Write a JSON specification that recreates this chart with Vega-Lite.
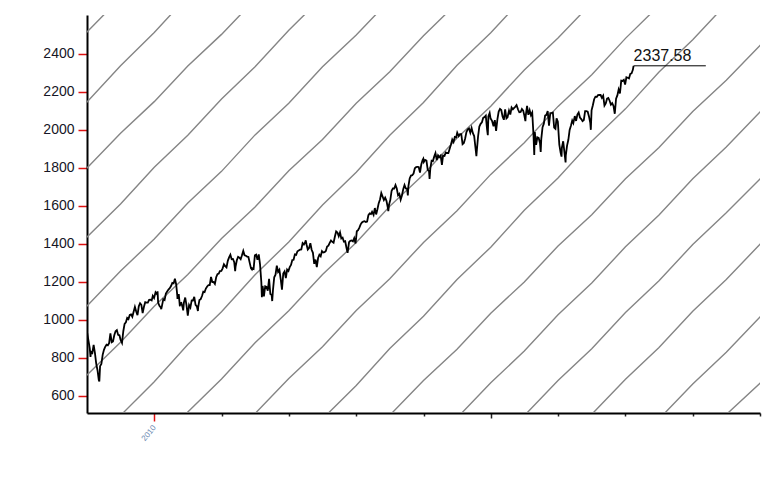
{
"$schema": "https://vega.github.io/schema/vega-lite/v6.json",
"width": 673, "height": 398,
"autosize": {"type": "none"},
"padding": {"left": 87, "top": 15, "right": 21, "bottom": 82},
"background": "white",
"config": {"view": {"stroke": null}, "font": "Liberation Sans", "axis": {"labelFont": "Liberation Sans"}},
"datasets": {
"fan": [
{"k":0,"d":"2008-07-02","v":2335},{"k":0,"d":"2009-01-01","v":2515},{"k":0,"d":"2009-07-02","v":2696},
{"k":1,"d":"2008-07-02","v":1962},{"k":1,"d":"2009-01-01","v":2147},{"k":1,"d":"2009-07-02","v":2338},{"k":1,"d":"2010-01-01","v":2513},{"k":1,"d":"2010-07-02","v":2704},
{"k":2,"d":"2008-07-02","v":1622},{"k":2,"d":"2009-01-01","v":1799},{"k":2,"d":"2009-07-02","v":1983},{"k":2,"d":"2010-01-01","v":2149},{"k":2,"d":"2010-07-02","v":2336},{"k":2,"d":"2011-01-01","v":2503},{"k":2,"d":"2011-07-02","v":2687},
{"k":3,"d":"2008-07-02","v":1256},{"k":3,"d":"2009-01-01","v":1436},{"k":3,"d":"2009-07-02","v":1610},{"k":3,"d":"2010-01-01","v":1804},{"k":3,"d":"2010-07-02","v":1972},{"k":3,"d":"2011-01-01","v":2163},{"k":3,"d":"2011-07-02","v":2333},{"k":3,"d":"2012-01-01","v":2525},{"k":3,"d":"2012-07-02","v":2700},
{"k":4,"d":"2008-07-02","v":894},{"k":4,"d":"2009-01-01","v":1073},{"k":4,"d":"2009-07-02","v":1258},{"k":4,"d":"2010-01-01","v":1426},{"k":4,"d":"2010-07-02","v":1615},{"k":4,"d":"2011-01-01","v":1782},{"k":4,"d":"2011-07-02","v":1974},{"k":4,"d":"2012-01-01","v":2141},{"k":4,"d":"2012-07-02","v":2332},{"k":4,"d":"2013-01-01","v":2500},{"k":4,"d":"2013-07-02","v":2684},
{"k":5,"d":"2008-07-02","v":532},{"k":5,"d":"2009-01-01","v":710},{"k":5,"d":"2009-07-02","v":882},{"k":5,"d":"2010-01-01","v":1072},{"k":5,"d":"2010-07-02","v":1239},{"k":5,"d":"2011-01-01","v":1428},{"k":5,"d":"2011-07-02","v":1594},{"k":5,"d":"2012-01-01","v":1785},{"k":5,"d":"2012-07-02","v":1950},{"k":5,"d":"2013-01-01","v":2140},{"k":5,"d":"2013-07-02","v":2306},{"k":5,"d":"2014-01-01","v":2496},{"k":5,"d":"2014-07-02","v":2668},
{"k":6,"d":"2009-01-01","v":314},{"k":6,"d":"2009-07-02","v":497},{"k":6,"d":"2010-01-01","v":675},{"k":6,"d":"2010-07-02","v":870},{"k":6,"d":"2011-01-01","v":1043},{"k":6,"d":"2011-07-02","v":1238},{"k":6,"d":"2012-01-01","v":1410},{"k":6,"d":"2012-07-02","v":1605},{"k":6,"d":"2013-01-01","v":1777},{"k":6,"d":"2013-07-02","v":1972},{"k":6,"d":"2014-01-01","v":2144},{"k":6,"d":"2014-07-02","v":2340},{"k":6,"d":"2015-01-01","v":2512},{"k":6,"d":"2015-07-02","v":2701},
{"k":7,"d":"2010-01-01","v":336},{"k":7,"d":"2010-07-02","v":515},{"k":7,"d":"2011-01-01","v":689},{"k":7,"d":"2011-07-02","v":880},{"k":7,"d":"2012-01-01","v":1048},{"k":7,"d":"2012-07-02","v":1239},{"k":7,"d":"2013-01-01","v":1407},{"k":7,"d":"2013-07-02","v":1598},{"k":7,"d":"2014-01-01","v":1766},{"k":7,"d":"2014-07-02","v":1957},{"k":7,"d":"2015-01-01","v":2125},{"k":7,"d":"2015-07-02","v":2316},{"k":7,"d":"2016-01-01","v":2484},{"k":7,"d":"2016-07-02","v":2669},
{"k":8,"d":"2011-01-01","v":328},{"k":8,"d":"2011-07-02","v":507},{"k":8,"d":"2012-01-01","v":692},{"k":8,"d":"2012-07-02","v":859},{"k":8,"d":"2013-01-01","v":1050},{"k":8,"d":"2013-07-02","v":1217},{"k":8,"d":"2014-01-01","v":1408},{"k":8,"d":"2014-07-02","v":1575},{"k":8,"d":"2015-01-01","v":1766},{"k":8,"d":"2015-07-02","v":1933},{"k":8,"d":"2016-01-01","v":2124},{"k":8,"d":"2016-07-02","v":2291},{"k":8,"d":"2017-01-01","v":2482},{"k":8,"d":"2017-07-02","v":2655},
{"k":9,"d":"2012-01-01","v":297},{"k":9,"d":"2012-07-02","v":479},{"k":9,"d":"2013-01-01","v":655},{"k":9,"d":"2013-07-02","v":849},{"k":9,"d":"2014-01-01","v":1019},{"k":9,"d":"2014-07-02","v":1213},{"k":9,"d":"2015-01-01","v":1383},{"k":9,"d":"2015-07-02","v":1577},{"k":9,"d":"2016-01-01","v":1747},{"k":9,"d":"2016-07-02","v":1941},{"k":9,"d":"2017-01-01","v":2111},{"k":9,"d":"2017-07-02","v":2305},{"k":9,"d":"2018-01-01","v":2475},{"k":9,"d":"2018-07-02","v":2663},
{"k":10,"d":"2013-01-01","v":321},{"k":10,"d":"2013-07-02","v":498},{"k":10,"d":"2014-01-01","v":681},{"k":10,"d":"2014-07-02","v":846},{"k":10,"d":"2015-01-01","v":1035},{"k":10,"d":"2015-07-02","v":1200},{"k":10,"d":"2016-01-01","v":1389},{"k":10,"d":"2016-07-02","v":1554},{"k":10,"d":"2017-01-01","v":1743},{"k":10,"d":"2017-07-02","v":1908},{"k":10,"d":"2018-01-01","v":2097},{"k":10,"d":"2018-07-02","v":2262},{"k":10,"d":"2019-01-01","v":2445},{"k":10,"d":"2019-07-02","v":2622},
{"k":11,"d":"2014-01-01","v":305},{"k":11,"d":"2014-07-02","v":484},{"k":11,"d":"2015-01-01","v":669},{"k":11,"d":"2015-07-02","v":836},{"k":11,"d":"2016-01-01","v":1027},{"k":11,"d":"2016-07-02","v":1194},{"k":11,"d":"2017-01-01","v":1385},{"k":11,"d":"2017-07-02","v":1552},{"k":11,"d":"2018-01-01","v":1743},{"k":11,"d":"2018-07-02","v":1910},{"k":11,"d":"2019-01-01","v":2095},{"k":11,"d":"2019-07-02","v":2274},
{"k":12,"d":"2015-01-01","v":317},{"k":12,"d":"2015-07-02","v":496},{"k":12,"d":"2016-01-01","v":681},{"k":12,"d":"2016-07-02","v":848},{"k":12,"d":"2017-01-01","v":1039},{"k":12,"d":"2017-07-02","v":1206},{"k":12,"d":"2018-01-01","v":1397},{"k":12,"d":"2018-07-02","v":1564},{"k":12,"d":"2019-01-01","v":1742},{"k":12,"d":"2019-07-02","v":1920},
{"k":13,"d":"2016-01-01","v":324},{"k":13,"d":"2016-07-02","v":503},{"k":13,"d":"2017-01-01","v":688},{"k":13,"d":"2017-07-02","v":855},{"k":13,"d":"2018-01-01","v":1046},{"k":13,"d":"2018-07-02","v":1213},{"k":13,"d":"2019-01-01","v":1398},{"k":13,"d":"2019-07-02","v":1577},
{"k":14,"d":"2017-01-01","v":299},{"k":14,"d":"2017-07-02","v":478},{"k":14,"d":"2018-01-01","v":663},{"k":14,"d":"2018-07-02","v":830},{"k":14,"d":"2019-01-01","v":1015},{"k":14,"d":"2019-07-02","v":1194},
{"k":15,"d":"2018-01-01","v":337},{"k":15,"d":"2018-07-02","v":502},{"k":15,"d":"2019-01-01","v":667},{"k":15,"d":"2019-07-02","v":832}
],
"price": [
{"d":"2009-01-02","v":931.8},{"d":"2009-01-09","v":890.35},{"d":"2009-01-16","v":850.12},{"d":"2009-01-20","v":805.22},{"d":"2009-01-23","v":831.95},{"d":"2009-01-30","v":825.88},{"d":"2009-02-06","v":868.6},{"d":"2009-02-13","v":826.84},{"d":"2009-02-20","v":770.05},{"d":"2009-02-27","v":735.09},{"d":"2009-03-06","v":683.38},{"d":"2009-03-09","v":676.53},{"d":"2009-03-13","v":756.55},{"d":"2009-03-20","v":768.54},{"d":"2009-03-27","v":815.94},{"d":"2009-04-03","v":842.5},{"d":"2009-04-09","v":856.56},{"d":"2009-04-17","v":869.6},{"d":"2009-04-24","v":866.23},{"d":"2009-05-01","v":877.52},{"d":"2009-05-08","v":929.23},{"d":"2009-05-15","v":882.88},{"d":"2009-05-22","v":887},{"d":"2009-05-29","v":919.14},{"d":"2009-06-05","v":940.09},{"d":"2009-06-12","v":946.21},{"d":"2009-06-19","v":921.23},{"d":"2009-06-26","v":918.9},{"d":"2009-07-02","v":896.42},{"d":"2009-07-10","v":879.13},{"d":"2009-07-17","v":940.38},{"d":"2009-07-24","v":979.26},{"d":"2009-07-31","v":987.48},{"d":"2009-08-07","v":1010.48},{"d":"2009-08-14","v":1004.09},{"d":"2009-08-21","v":1026.13},{"d":"2009-08-28","v":1028.93},{"d":"2009-09-04","v":1016.4},{"d":"2009-09-11","v":1042.73},{"d":"2009-09-18","v":1068.3},{"d":"2009-09-25","v":1044.38},{"d":"2009-10-02","v":1025.21},{"d":"2009-10-09","v":1071.49},{"d":"2009-10-16","v":1087.68},{"d":"2009-10-23","v":1079.6},{"d":"2009-10-30","v":1036.19},{"d":"2009-11-06","v":1069.3},{"d":"2009-11-13","v":1093.48},{"d":"2009-11-20","v":1091.38},{"d":"2009-11-27","v":1091.49},{"d":"2009-12-04","v":1105.98},{"d":"2009-12-11","v":1106.41},{"d":"2009-12-18","v":1102.47},{"d":"2009-12-24","v":1126.48},{"d":"2009-12-31","v":1115.1},
{"d":"2010-01-08","v":1144.98},{"d":"2010-01-15","v":1136.03},{"d":"2010-01-19","v":1150.23},{"d":"2010-01-22","v":1091.76},{"d":"2010-01-29","v":1073.87},{"d":"2010-02-05","v":1066.19},{"d":"2010-02-08","v":1056.74},{"d":"2010-02-12","v":1075.51},{"d":"2010-02-19","v":1109.17},{"d":"2010-02-26","v":1104.49},{"d":"2010-03-05","v":1138.7},{"d":"2010-03-12","v":1149.99},{"d":"2010-03-19","v":1159.9},{"d":"2010-03-26","v":1166.59},{"d":"2010-04-02","v":1178.1},{"d":"2010-04-09","v":1194.37},{"d":"2010-04-16","v":1192.13},{"d":"2010-04-23","v":1217.28},{"d":"2010-04-30","v":1186.69},{"d":"2010-05-06","v":1128.15},{"d":"2010-05-07","v":1110.88},{"d":"2010-05-14","v":1135.68},{"d":"2010-05-20","v":1071.59},{"d":"2010-05-21","v":1087.69},{"d":"2010-05-28","v":1089.41},{"d":"2010-06-04","v":1064.88},{"d":"2010-06-07","v":1050.47},{"d":"2010-06-11","v":1091.6},{"d":"2010-06-18","v":1117.51},{"d":"2010-06-25","v":1076.76},{"d":"2010-07-02","v":1022.58},{"d":"2010-07-09","v":1077.96},{"d":"2010-07-16","v":1064.88},{"d":"2010-07-23","v":1102.66},{"d":"2010-07-30","v":1101.6},{"d":"2010-08-06","v":1121.64},{"d":"2010-08-13","v":1079.25},{"d":"2010-08-20","v":1071.69},{"d":"2010-08-26","v":1047.22},{"d":"2010-08-27","v":1064.59},{"d":"2010-09-03","v":1104.51},{"d":"2010-09-10","v":1109.55},{"d":"2010-09-17","v":1125.59},{"d":"2010-09-24","v":1148.67},{"d":"2010-10-01","v":1146.24},{"d":"2010-10-08","v":1165.15},{"d":"2010-10-15","v":1176.19},{"d":"2010-10-22","v":1183.08},{"d":"2010-10-29","v":1183.26},{"d":"2010-11-05","v":1225.85},{"d":"2010-11-12","v":1199.21},{"d":"2010-11-19","v":1199.73},{"d":"2010-11-26","v":1189.4},{"d":"2010-12-03","v":1224.71},{"d":"2010-12-10","v":1240.4},{"d":"2010-12-17","v":1243.91},{"d":"2010-12-23","v":1256.77},{"d":"2010-12-31","v":1257.64},
{"d":"2011-01-07","v":1271.5},{"d":"2011-01-14","v":1293.24},{"d":"2011-01-21","v":1283.35},{"d":"2011-01-28","v":1276.34},{"d":"2011-02-04","v":1310.87},{"d":"2011-02-11","v":1329.15},{"d":"2011-02-18","v":1343.01},{"d":"2011-02-25","v":1319.88},{"d":"2011-03-04","v":1321.15},{"d":"2011-03-11","v":1304.28},{"d":"2011-03-16","v":1256.88},{"d":"2011-03-18","v":1279.2},{"d":"2011-03-25","v":1313.8},{"d":"2011-04-01","v":1332.41},{"d":"2011-04-08","v":1328.17},{"d":"2011-04-15","v":1319.68},{"d":"2011-04-21","v":1337.38},{"d":"2011-04-29","v":1363.61},{"d":"2011-05-06","v":1340.2},{"d":"2011-05-13","v":1337.77},{"d":"2011-05-20","v":1333.27},{"d":"2011-05-27","v":1331.1},{"d":"2011-06-03","v":1300.16},{"d":"2011-06-10","v":1270.98},{"d":"2011-06-15","v":1265.42},{"d":"2011-06-17","v":1271.5},{"d":"2011-06-24","v":1268.45},{"d":"2011-07-01","v":1339.67},{"d":"2011-07-08","v":1343.8},{"d":"2011-07-15","v":1316.14},{"d":"2011-07-22","v":1345.02},{"d":"2011-07-29","v":1292.28},{"d":"2011-08-05","v":1199.38},{"d":"2011-08-08","v":1119.46},{"d":"2011-08-12","v":1178.81},{"d":"2011-08-19","v":1123.53},{"d":"2011-08-26","v":1176.8},{"d":"2011-09-02","v":1173.97},{"d":"2011-09-09","v":1154.23},{"d":"2011-09-16","v":1216.01},{"d":"2011-09-23","v":1136.43},{"d":"2011-09-30","v":1131.42},{"d":"2011-10-03","v":1099.23},{"d":"2011-10-07","v":1155.46},{"d":"2011-10-14","v":1224.58},{"d":"2011-10-21","v":1238.25},{"d":"2011-10-28","v":1285.09},{"d":"2011-11-04","v":1253.23},{"d":"2011-11-11","v":1263.85},{"d":"2011-11-18","v":1215.65},{"d":"2011-11-25","v":1158.67},{"d":"2011-12-02","v":1244.28},{"d":"2011-12-09","v":1255.19},{"d":"2011-12-16","v":1219.66},{"d":"2011-12-23","v":1265.33},{"d":"2011-12-30","v":1257.6},
{"d":"2012-01-06","v":1277.81},{"d":"2012-01-13","v":1289.09},{"d":"2012-01-20","v":1315.38},{"d":"2012-01-27","v":1316.33},{"d":"2012-02-03","v":1344.9},{"d":"2012-02-10","v":1342.64},{"d":"2012-02-17","v":1361.23},{"d":"2012-02-24","v":1365.74},{"d":"2012-03-02","v":1369.63},{"d":"2012-03-09","v":1370.87},{"d":"2012-03-16","v":1404.17},{"d":"2012-03-23","v":1397.11},{"d":"2012-03-30","v":1408.47},{"d":"2012-04-02","v":1419.04},{"d":"2012-04-06","v":1398.08},{"d":"2012-04-13","v":1370.26},{"d":"2012-04-20","v":1378.53},{"d":"2012-04-27","v":1403.36},{"d":"2012-05-04","v":1369.1},{"d":"2012-05-11","v":1353.39},{"d":"2012-05-18","v":1295.22},{"d":"2012-05-25","v":1317.82},{"d":"2012-06-01","v":1278.04},{"d":"2012-06-08","v":1325.66},{"d":"2012-06-15","v":1342.84},{"d":"2012-06-22","v":1335.02},{"d":"2012-06-29","v":1362.16},{"d":"2012-07-06","v":1354.68},{"d":"2012-07-13","v":1356.78},{"d":"2012-07-20","v":1362.66},{"d":"2012-07-27","v":1385.97},{"d":"2012-08-03","v":1390.99},{"d":"2012-08-10","v":1405.87},{"d":"2012-08-17","v":1418.16},{"d":"2012-08-24","v":1411.13},{"d":"2012-08-31","v":1406.58},{"d":"2012-09-07","v":1437.92},{"d":"2012-09-14","v":1465.77},{"d":"2012-09-21","v":1460.15},{"d":"2012-09-28","v":1440.67},{"d":"2012-10-05","v":1460.93},{"d":"2012-10-12","v":1428.59},{"d":"2012-10-19","v":1433.19},{"d":"2012-10-26","v":1411.94},{"d":"2012-11-02","v":1414.2},{"d":"2012-11-09","v":1379.85},{"d":"2012-11-15","v":1353.33},{"d":"2012-11-16","v":1359.88},{"d":"2012-11-23","v":1409.15},{"d":"2012-11-30","v":1416.18},{"d":"2012-12-07","v":1418.07},{"d":"2012-12-14","v":1413.58},{"d":"2012-12-21","v":1430.15},{"d":"2012-12-28","v":1402.43},{"d":"2012-12-31","v":1426.19},
{"d":"2013-01-04","v":1466.47},{"d":"2013-01-11","v":1472.05},{"d":"2013-01-18","v":1485.98},{"d":"2013-01-25","v":1502.96},{"d":"2013-02-01","v":1513.17},{"d":"2013-02-08","v":1517.93},{"d":"2013-02-15","v":1519.79},{"d":"2013-02-22","v":1515.6},{"d":"2013-03-01","v":1518.2},{"d":"2013-03-08","v":1551.18},{"d":"2013-03-15","v":1560.7},{"d":"2013-03-22","v":1556.89},{"d":"2013-03-28","v":1569.19},{"d":"2013-04-05","v":1553.28},{"d":"2013-04-12","v":1588.85},{"d":"2013-04-19","v":1555.25},{"d":"2013-04-26","v":1582.24},{"d":"2013-05-03","v":1614.42},{"d":"2013-05-10","v":1633.7},{"d":"2013-05-17","v":1667.47},{"d":"2013-05-24","v":1649.6},{"d":"2013-05-31","v":1630.74},{"d":"2013-06-07","v":1643.38},{"d":"2013-06-14","v":1626.73},{"d":"2013-06-21","v":1592.43},{"d":"2013-06-24","v":1573.09},{"d":"2013-06-28","v":1606.28},{"d":"2013-07-05","v":1631.89},{"d":"2013-07-12","v":1680.19},{"d":"2013-07-19","v":1692.09},{"d":"2013-07-26","v":1691.65},{"d":"2013-08-02","v":1709.67},{"d":"2013-08-09","v":1691.42},{"d":"2013-08-16","v":1655.83},{"d":"2013-08-23","v":1663.5},{"d":"2013-08-30","v":1632.97},{"d":"2013-09-06","v":1655.17},{"d":"2013-09-13","v":1687.99},{"d":"2013-09-20","v":1709.91},{"d":"2013-09-27","v":1691.75},{"d":"2013-10-04","v":1690.5},{"d":"2013-10-08","v":1655.45},{"d":"2013-10-11","v":1703.2},{"d":"2013-10-18","v":1744.5},{"d":"2013-10-25","v":1759.77},{"d":"2013-11-01","v":1761.64},{"d":"2013-11-08","v":1770.61},{"d":"2013-11-15","v":1798.18},{"d":"2013-11-22","v":1804.76},{"d":"2013-11-29","v":1805.81},{"d":"2013-12-06","v":1805.09},{"d":"2013-12-13","v":1775.32},{"d":"2013-12-20","v":1818.32},{"d":"2013-12-27","v":1841.4},{"d":"2013-12-31","v":1848.36},
{"d":"2014-01-03","v":1831.37},{"d":"2014-01-10","v":1842.37},{"d":"2014-01-17","v":1838.7},{"d":"2014-01-24","v":1790.29},{"d":"2014-01-31","v":1782.59},{"d":"2014-02-03","v":1741.89},{"d":"2014-02-07","v":1797.02},{"d":"2014-02-14","v":1838.63},{"d":"2014-02-21","v":1836.25},{"d":"2014-02-28","v":1859.45},{"d":"2014-03-07","v":1878.04},{"d":"2014-03-14","v":1841.13},{"d":"2014-03-21","v":1866.52},{"d":"2014-03-28","v":1857.62},{"d":"2014-04-04","v":1865.09},{"d":"2014-04-11","v":1815.69},{"d":"2014-04-17","v":1864.85},{"d":"2014-04-25","v":1863.4},{"d":"2014-05-02","v":1881.14},{"d":"2014-05-09","v":1878.48},{"d":"2014-05-16","v":1877.86},{"d":"2014-05-23","v":1900.53},{"d":"2014-05-30","v":1923.57},{"d":"2014-06-06","v":1949.44},{"d":"2014-06-13","v":1936.16},{"d":"2014-06-20","v":1962.87},{"d":"2014-06-27","v":1960.96},{"d":"2014-07-03","v":1985.44},{"d":"2014-07-11","v":1967.57},{"d":"2014-07-18","v":1978.22},{"d":"2014-07-25","v":1978.34},{"d":"2014-08-01","v":1925.15},{"d":"2014-08-08","v":1931.59},{"d":"2014-08-15","v":1955.06},{"d":"2014-08-22","v":1988.4},{"d":"2014-08-29","v":2003.37},{"d":"2014-09-05","v":2007.71},{"d":"2014-09-12","v":1985.54},{"d":"2014-09-19","v":2010.4},{"d":"2014-09-26","v":1982.85},{"d":"2014-10-03","v":1967.9},{"d":"2014-10-10","v":1906.13},{"d":"2014-10-15","v":1862.49},{"d":"2014-10-17","v":1886.76},{"d":"2014-10-24","v":1964.58},{"d":"2014-10-31","v":2018.05},{"d":"2014-11-07","v":2031.92},{"d":"2014-11-14","v":2039.82},{"d":"2014-11-21","v":2063.5},{"d":"2014-11-28","v":2067.56},{"d":"2014-12-05","v":2075.37},{"d":"2014-12-12","v":2002.33},{"d":"2014-12-16","v":1972.74},{"d":"2014-12-19","v":2070.65},{"d":"2014-12-26","v":2088.77},{"d":"2014-12-31","v":2058.9},
{"d":"2015-01-02","v":2058.2},{"d":"2015-01-09","v":2044.81},{"d":"2015-01-16","v":2019.42},{"d":"2015-01-23","v":2051.82},{"d":"2015-01-30","v":1994.99},{"d":"2015-02-06","v":2055.47},{"d":"2015-02-13","v":2096.99},{"d":"2015-02-20","v":2110.3},{"d":"2015-02-27","v":2104.5},{"d":"2015-03-06","v":2071.26},{"d":"2015-03-13","v":2053.4},{"d":"2015-03-20","v":2108.1},{"d":"2015-03-27","v":2061.02},{"d":"2015-04-02","v":2066.96},{"d":"2015-04-10","v":2102.06},{"d":"2015-04-17","v":2081.18},{"d":"2015-04-24","v":2117.69},{"d":"2015-05-01","v":2108.29},{"d":"2015-05-08","v":2116.1},{"d":"2015-05-15","v":2122.73},{"d":"2015-05-21","v":2130.82},{"d":"2015-05-29","v":2107.39},{"d":"2015-06-05","v":2092.83},{"d":"2015-06-12","v":2094.11},{"d":"2015-06-19","v":2109.99},{"d":"2015-06-26","v":2101.49},{"d":"2015-07-02","v":2076.78},{"d":"2015-07-08","v":2046.68},{"d":"2015-07-10","v":2076.62},{"d":"2015-07-17","v":2126.64},{"d":"2015-07-24","v":2079.65},{"d":"2015-07-31","v":2103.84},{"d":"2015-08-07","v":2077.57},{"d":"2015-08-14","v":2091.54},{"d":"2015-08-21","v":1970.89},{"d":"2015-08-25","v":1867.61},{"d":"2015-08-28","v":1988.87},{"d":"2015-09-04","v":1921.22},{"d":"2015-09-11","v":1961.05},{"d":"2015-09-18","v":1958.03},{"d":"2015-09-25","v":1931.34},{"d":"2015-09-29","v":1884.09},{"d":"2015-10-02","v":1951.36},{"d":"2015-10-09","v":2014.89},{"d":"2015-10-16","v":2033.11},{"d":"2015-10-23","v":2075.15},{"d":"2015-10-30","v":2079.36},{"d":"2015-11-06","v":2099.2},{"d":"2015-11-13","v":2023.04},{"d":"2015-11-20","v":2089.17},{"d":"2015-11-27","v":2090.11},{"d":"2015-12-04","v":2091.69},{"d":"2015-12-11","v":2012.37},{"d":"2015-12-18","v":2005.55},{"d":"2015-12-24","v":2060.99},{"d":"2015-12-31","v":2043.94},
{"d":"2016-01-08","v":1922.03},{"d":"2016-01-15","v":1880.33},{"d":"2016-01-20","v":1859.33},{"d":"2016-01-22","v":1906.9},{"d":"2016-01-29","v":1940.24},{"d":"2016-02-05","v":1880.05},{"d":"2016-02-11","v":1829.08},{"d":"2016-02-12","v":1864.78},{"d":"2016-02-19","v":1917.78},{"d":"2016-02-26","v":1948.05},{"d":"2016-03-04","v":1999.99},{"d":"2016-03-11","v":2022.19},{"d":"2016-03-18","v":2049.58},{"d":"2016-03-24","v":2035.94},{"d":"2016-04-01","v":2072.78},{"d":"2016-04-08","v":2047.6},{"d":"2016-04-15","v":2080.73},{"d":"2016-04-22","v":2091.58},{"d":"2016-04-29","v":2065.3},{"d":"2016-05-06","v":2057.14},{"d":"2016-05-13","v":2046.61},{"d":"2016-05-20","v":2052.32},{"d":"2016-05-27","v":2099.06},{"d":"2016-06-03","v":2099.13},{"d":"2016-06-10","v":2096.07},{"d":"2016-06-17","v":2071.22},{"d":"2016-06-24","v":2037.41},{"d":"2016-06-27","v":2000.54},{"d":"2016-07-01","v":2102.95},{"d":"2016-07-08","v":2129.9},{"d":"2016-07-15","v":2161.74},{"d":"2016-07-22","v":2175.03},{"d":"2016-07-29","v":2173.6},{"d":"2016-08-05","v":2182.87},{"d":"2016-08-12","v":2184.05},{"d":"2016-08-19","v":2183.87},{"d":"2016-08-26","v":2169.04},{"d":"2016-09-02","v":2179.98},{"d":"2016-09-09","v":2127.81},{"d":"2016-09-16","v":2139.16},{"d":"2016-09-23","v":2164.69},{"d":"2016-09-30","v":2168.27},{"d":"2016-10-07","v":2153.74},{"d":"2016-10-14","v":2132.98},{"d":"2016-10-21","v":2141.16},{"d":"2016-10-28","v":2126.41},{"d":"2016-11-04","v":2085.18},{"d":"2016-11-11","v":2164.45},{"d":"2016-11-18","v":2181.9},{"d":"2016-11-25","v":2213.35},{"d":"2016-12-02","v":2191.95},{"d":"2016-12-09","v":2259.53},{"d":"2016-12-16","v":2258.07},{"d":"2016-12-23","v":2263.79},{"d":"2016-12-30","v":2238.83},
{"d":"2017-01-06","v":2276.98},{"d":"2017-01-13","v":2274.64},{"d":"2017-01-20","v":2271.31},{"d":"2017-01-27","v":2294.69},{"d":"2017-02-03","v":2297.42},{"d":"2017-02-10","v":2316.1},{"d":"2017-02-14","v":2337.58}
],
"last": [{"d":"2017-02-14","d2":"2018-03-13","v":2337.58,"label":"2337.58"}]
},
"layer": [
{"data": {"name": "fan"},
 "mark": {"type": "line", "clip": true, "color": "#858585", "strokeWidth": 1.4},
 "encoding": {
  "x": {"field": "d", "type": "temporal",
   "scale": {"domain": [{"year":2009,"month":1,"date":1},{"year":2019,"month":1,"date":1}], "nice": false},
   "axis": {"title": null, "grid": false,
    "values": [{"year":2010,"month":1,"date":1},{"year":2011,"month":1,"date":1},{"year":2012,"month":1,"date":1},{"year":2013,"month":1,"date":1},{"year":2014,"month":1,"date":1},{"year":2015,"month":1,"date":1},{"year":2016,"month":1,"date":1},{"year":2017,"month":1,"date":1},{"year":2018,"month":1,"date":1},{"year":2019,"month":1,"date":1}],
    "format": "%Y",
    "labelExpr": "year(datum.value) == 2010 ? '2010' : ''",
    "labelAngle": -51, "labelFontSize": 8, "labelColor": "#6a88b0", "labelPadding": 5,
    "domainColor": "#000", "domainWidth": 2,
    "tickWidth": 1.5,
    "tickColor": {"condition": {"test": "year(datum.value) == 2010", "value": "#e01010"}, "value": "#222"},
    "tickSize": {"condition": [{"test": "year(datum.value) == 2010", "value": 8}, {"test": "year(datum.value) == 2015", "value": 5}], "value": 3}
   }},
  "y": {"field": "v", "type": "quantitative",
   "scale": {"domain": [510, 2605], "nice": false, "zero": false},
   "axis": {"title": null, "grid": false,
    "values": [600,700,800,900,1000,1100,1200,1300,1400,1500,1600,1700,1800,1900,2000,2100,2200,2300,2400,2500],
    "format": "d",
    "labelExpr": "datum.value % 200 == 0 ? datum.label : ''",
    "labelFontSize": 14, "labelColor": "#161626", "labelPadding": 4,
    "domainColor": "#000", "domainWidth": 2,
    "tickColor": "#dd1111", "tickWidth": 1.5,
    "tickSize": {"condition": {"test": "datum.value % 200 == 0", "value": 9}, "value": 5}
   }},
  "detail": {"field": "k", "type": "nominal"}
 }},
{"data": {"name": "price"},
 "mark": {"type": "line", "clip": true, "color": "#000", "strokeWidth": 1.8},
 "encoding": {
  "x": {"field": "d", "type": "temporal"},
  "y": {"field": "v", "type": "quantitative"}
 }},
{"data": {"name": "last"},
 "mark": {"type": "rule", "color": "#000", "strokeWidth": 1},
 "encoding": {
  "x": {"field": "d", "type": "temporal"},
  "x2": {"field": "d2"},
  "y": {"field": "v", "type": "quantitative"}
 }},
{"data": {"name": "last"},
 "mark": {"type": "text", "align": "left", "baseline": "alphabetic", "dx": 0, "dy": -5, "fontSize": 16, "font": "Liberation Sans", "color": "#111"},
 "encoding": {
  "x": {"field": "d", "type": "temporal"},
  "y": {"field": "v", "type": "quantitative"},
  "text": {"field": "label"}
 }}
]
}
